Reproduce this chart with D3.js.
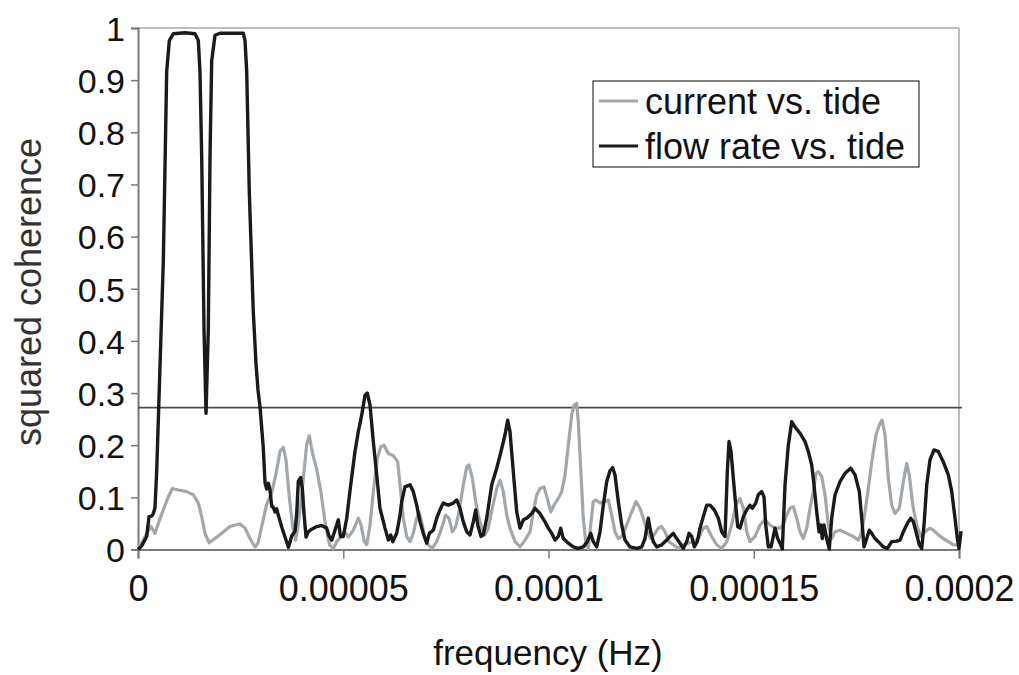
<!DOCTYPE html>
<html><head><meta charset="utf-8">
<script src="https://cdn.jsdelivr.net/npm/d3@7"></script>
<style>html,body{margin:0;padding:0;background:#fff;}svg{display:block;font-family:"Liberation Sans",Arial,sans-serif;}</style>
</head><body><svg id="c" width="1019" height="675"></svg>
<script>
// frequencies in microhertz (1e-6 Hz), coherence values
const flowFreq = [0,0.90,2.12,2.68,3.34,3.73,4.14,4.56,4.95,6.17,6.99,7.63,8.60,11.45,13.89,14.69,15.10,15.52,16.08,16.57,17.13,17.54,17.95,18.76,19.98,25.65,26.07,26.48,27.11,28.09,28.75,29.23,29.72,30.52,30.94,31.35,31.79,32.16,32.57,32.96,33.37,33.79,34.18,35.01,35.81,36.66,37.44,38.25,38.66,39.05,39.64,40.07,40.44,40.93,41.49,42.32,43.53,44.75,45.97,46.53,47.19,47.99,48.80,49.33,50.01,50.84,51.82,52.86,53.67,54.50,55.30,55.86,56.52,57.32,58.15,58.95,60.17,60.98,61.56,62.05,63.02,63.83,64.24,65.04,66.26,67.06,67.89,68.70,69.50,70.33,70.96,71.94,72.77,73.57,74.37,75.59,76.81,77.64,78.44,79.25,80.08,80.88,81.68,82.27,82.76,83.56,84.12,84.95,86.17,87.39,88.43,89.41,90.06,90.62,91.43,92.26,93.06,93.87,94.70,95.91,96.72,97.93,99.15,99.95,100.78,101.58,102.39,102.97,103.61,104.83,106.04,107.26,108.48,109.45,110.28,110.91,111.74,112.55,113.35,114.18,114.98,115.64,116.20,117.00,117.83,118.64,119.86,121.49,122.71,123.51,124.31,124.90,125.53,126.36,127.58,128.80,129.60,130.41,131.23,132.04,132.84,133.67,134.23,134.89,135.52,136.25,136.91,137.71,138.54,139.34,140.39,141.37,142.19,143.00,143.56,143.97,144.46,145.02,145.61,146.09,146.65,147.46,148.29,149.09,149.65,150.48,151.11,151.94,152.50,152.92,153.55,154.21,154.77,155.18,155.84,156.40,156.96,157.62,158.42,159.25,160.05,161.27,162.49,163.29,164.12,164.68,165.34,165.90,166.31,166.70,167.12,167.77,168.41,168.99,169.80,171.02,172.24,173.62,174.67,175.72,176.30,176.86,177.52,178.15,178.74,179.54,180.34,181.56,182.54,183.61,184.83,185.63,186.44,187.41,188.24,188.88,189.53,190.34,190.92,191.48,192.14,192.94,193.92,194.96,196.18,197.40,198.23,199.03,199.59,200.00,200.50];
const flowCoh = [0.000,0.007,0.025,0.063,0.064,0.069,0.080,0.152,0.248,0.554,0.917,0.976,0.989,0.991,0.989,0.976,0.917,0.752,0.423,0.261,0.423,0.752,0.937,0.986,0.990,0.990,0.976,0.917,0.686,0.455,0.356,0.306,0.274,0.195,0.128,0.116,0.127,0.114,0.083,0.081,0.072,0.078,0.066,0.043,0.024,0.004,0.026,0.035,0.069,0.131,0.138,0.114,0.069,0.024,0.034,0.039,0.044,0.046,0.041,0.026,0.018,0.037,0.057,0.025,0.025,0.060,0.124,0.188,0.226,0.258,0.296,0.300,0.277,0.207,0.143,0.079,0.041,0.018,0.028,0.015,0.031,0.066,0.092,0.120,0.124,0.111,0.085,0.053,0.031,0.012,0.031,0.037,0.060,0.076,0.089,0.085,0.089,0.095,0.079,0.053,0.034,0.028,0.053,0.076,0.047,0.025,0.028,0.060,0.124,0.156,0.188,0.220,0.248,0.226,0.149,0.072,0.041,0.057,0.060,0.069,0.079,0.069,0.053,0.041,0.031,0.018,0.025,0.041,0.021,0.012,0.005,0.002,0.005,0.015,0.031,0.015,0.005,0.034,0.085,0.130,0.151,0.157,0.143,0.092,0.047,0.018,0.005,0.002,0.005,0.021,0.060,0.034,0.015,0.005,0.009,0.018,0.025,0.031,0.021,0.012,0.002,0.015,0.031,0.025,0.005,0.015,0.041,0.063,0.085,0.085,0.076,0.060,0.034,0.025,0.149,0.207,0.188,0.137,0.085,0.044,0.041,0.063,0.076,0.085,0.079,0.089,0.105,0.111,0.101,0.047,0.005,0.005,0.025,0.041,0.021,0.012,0.001,0.124,0.200,0.245,0.235,0.223,0.207,0.188,0.162,0.124,0.072,0.034,0.047,0.021,0.047,0.021,0.001,0.060,0.105,0.130,0.146,0.156,0.143,0.111,0.060,0.005,0.021,0.037,0.031,0.021,0.015,0.005,0.002,0.015,0.016,0.018,0.034,0.050,0.060,0.053,0.034,0.009,0.002,0.047,0.124,0.172,0.191,0.188,0.168,0.143,0.111,0.060,0.021,0.002,0.035];
const currFreq = [0,0.49,1.29,2.51,3.17,4.14,4.95,6.16,7.38,8.36,9.82,11.86,13.47,14.69,15.52,16.32,17.30,18.76,20.39,22.41,23.63,24.85,26.07,27.28,28.50,29.23,30.13,31.35,32.57,33.79,34.59,35.40,36.05,36.86,37.69,38.37,39.05,39.88,41.10,41.73,42.56,43.53,44.58,45.55,46.65,47.58,48.40,49.21,50.43,51.23,52.45,53.67,54.33,55.13,55.72,56.52,57.32,58.30,59.12,59.93,60.98,62.19,63.26,63.83,64.63,65.46,66.26,67.06,67.89,68.45,69.11,69.91,70.72,71.69,72.77,73.98,74.96,75.76,76.57,77.40,78.20,79.25,80.08,80.64,81.44,82.27,82.90,83.73,84.53,85.34,86.31,87.39,88.19,88.99,89.82,90.62,91.84,93.06,94.28,95.50,96.30,97.13,97.93,98.91,99.71,100.54,101.35,102.39,103.22,104.03,104.83,105.66,106.21,106.87,107.26,107.84,108.48,109.14,109.70,110.28,110.91,111.57,112.55,113.77,114.57,115.40,116.20,117.00,117.83,119.05,120.27,121.32,122.29,123.10,124.07,124.90,125.70,126.75,127.58,128.38,129.36,130.41,131.63,132.84,134.06,135.28,136.50,137.71,138.54,139.76,140.97,142.19,143.41,144.63,145.61,146.65,147.46,148.29,149.09,150.31,151.53,152.75,153.97,155.18,156.40,157.21,158.03,158.83,159.64,160.47,161.27,162.08,162.91,163.71,164.51,165.17,165.73,166.56,167.36,168.17,168.99,169.80,171.02,172.65,174.26,175.48,176.30,177.10,177.91,178.74,179.79,180.76,181.25,181.98,182.78,183.61,184.41,185.46,186.44,187.26,187.90,188.73,189.70,190.68,191.72,192.94,193.75,194.96,196.18,197.40,198.62,199.84];
const currCoh = [0.012,0.007,0.018,0.037,0.044,0.031,0.050,0.076,0.101,0.117,0.114,0.111,0.105,0.089,0.063,0.031,0.013,0.021,0.031,0.044,0.047,0.049,0.041,0.021,0.005,0.012,0.044,0.087,0.108,0.152,0.188,0.196,0.172,0.101,0.044,0.018,0.047,0.105,0.202,0.218,0.183,0.154,0.109,0.053,0.009,0.002,0.015,0.022,0.034,0.024,0.037,0.060,0.047,0.015,0.009,0.047,0.111,0.175,0.197,0.200,0.184,0.180,0.168,0.124,0.060,0.025,0.015,0.031,0.060,0.072,0.053,0.021,0.009,0.002,0.015,0.041,0.066,0.060,0.034,0.044,0.072,0.124,0.159,0.162,0.137,0.092,0.066,0.041,0.028,0.041,0.079,0.117,0.133,0.111,0.066,0.041,0.015,0.005,0.018,0.034,0.072,0.105,0.117,0.120,0.098,0.072,0.085,0.098,0.111,0.143,0.200,0.258,0.277,0.280,0.245,0.156,0.060,0.009,0.002,0.047,0.092,0.095,0.089,0.092,0.095,0.066,0.034,0.021,0.025,0.047,0.072,0.092,0.079,0.060,0.034,0.021,0.028,0.041,0.044,0.034,0.015,0.009,0.002,0.009,0.012,0.015,0.021,0.041,0.044,0.025,0.009,0.002,0.015,0.047,0.085,0.098,0.079,0.034,0.015,0.025,0.047,0.057,0.047,0.041,0.041,0.047,0.066,0.079,0.082,0.060,0.034,0.021,0.041,0.079,0.111,0.146,0.149,0.140,0.105,0.047,0.021,0.034,0.037,0.031,0.025,0.018,0.034,0.072,0.117,0.168,0.220,0.242,0.248,0.220,0.137,0.085,0.069,0.079,0.130,0.165,0.143,0.085,0.047,0.025,0.034,0.041,0.037,0.028,0.021,0.015,0.009,0.009];
const thresholdValue = 0.272;
const xTickValues = [0, 0.00005, 0.0001, 0.00015, 0.0002];
const xTickLabels = ["0", "0.00005", "0.0001", "0.00015", "0.0002"];
const yTickValues = [0,0.1,0.2,0.3,0.4,0.5,0.6,0.7,0.8,0.9,1];
const yTickLabels = ["0","0.1","0.2","0.3","0.4","0.5","0.6","0.7","0.8","0.9","1"];
const seriesNames = ["current vs. tide", "flow rate vs. tide"];
const seriesColors = ["#a2a7ab", "#1a1a1a"];

const svg = d3.select("#c");
const x = d3.scaleLinear().domain([0, 0.0002]).range([138, 959]);
const y = d3.scaleLinear().domain([0, 1]).range([549.5, 28]);

// frame
svg.append("line").attr("x1",138).attr("x2",959).attr("y1",y(1)).attr("y2",y(1)).attr("stroke","#a8a8a8").attr("stroke-width",1.5);
svg.append("line").attr("x1",959).attr("x2",959).attr("y1",y(1)).attr("y2",y(0)).attr("stroke","#a8a8a8").attr("stroke-width",1.5);

const xAxis = svg.append("g").attr("transform",`translate(0,${y(0)})`)
  .call(d3.axisBottom(x).tickValues(xTickValues).tickFormat((d,i)=>xTickLabels[i]).tickSize(9).tickPadding(17));
const yAxis = svg.append("g").attr("transform",`translate(138,0)`)
  .call(d3.axisLeft(y).tickValues(yTickValues).tickFormat((d,i)=>yTickLabels[i]).tickSize(7).tickPadding(6));
[xAxis,yAxis].forEach(g=>{
  g.select(".domain").attr("stroke","#7a7a7a").attr("stroke-width",2);
  g.selectAll(".tick line").attr("stroke","#7a7a7a").attr("stroke-width",1.5);
  g.selectAll(".tick text").attr("fill","#111").attr("font-family","'Liberation Sans',Arial,sans-serif");
});
xAxis.selectAll(".tick text").attr("font-size",36);
yAxis.selectAll(".tick text").attr("font-size",34).attr("dy","0.36em");

// threshold
svg.append("line").attr("x1",138).attr("x2",962).attr("y1",y(thresholdValue)).attr("y2",y(thresholdValue))
  .attr("stroke","#4a4a4a").attr("stroke-width",1.6);

const line = d3.line().x(d=>x(d[0]*1e-6)).y(d=>y(d[1]));
const curr = currFreq.map((f,i)=>[f,currCoh[i]]);
const flow = flowFreq.map((f,i)=>[f,flowCoh[i]]);
svg.append("path").datum(curr).attr("d",line).attr("fill","none").attr("stroke",seriesColors[0]).attr("stroke-width",3.2).attr("stroke-linejoin","round");
svg.append("path").datum(flow).attr("d",line).attr("fill","none").attr("stroke",seriesColors[1]).attr("stroke-width",3.4).attr("stroke-linejoin","round");

// axis titles
svg.append("text").attr("x",548).attr("y",665).attr("text-anchor","middle").attr("font-size",35).attr("fill","#111").text("frequency (Hz)");
svg.append("text").attr("transform","translate(41,292) rotate(-90)").attr("text-anchor","middle").attr("font-size",36).attr("fill","#333").text("squared coherence");

// legend
const lg = svg.append("g");
lg.append("rect").attr("x",593).attr("y",81).attr("width",326).attr("height",86).attr("fill","#fff").attr("stroke","#333").attr("stroke-width",1.2);
seriesNames.forEach((n,i)=>{
  const cy = 101 + i*45;
  lg.append("line").attr("x1",599).attr("x2",638).attr("y1",cy).attr("y2",cy).attr("stroke",seriesColors[i]).attr("stroke-width",3.2);
  lg.append("text").attr("x",645).attr("y",cy+13).attr("font-size",36).attr("fill","#111").text(n);
});
</script></body></html>
